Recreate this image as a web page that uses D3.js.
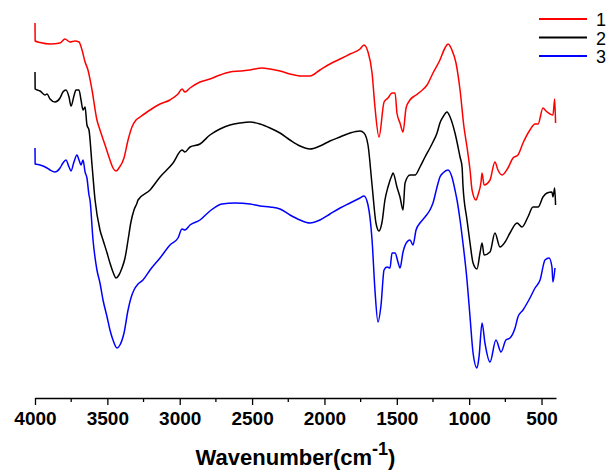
<!DOCTYPE html>
<html>
<head>
<meta charset="utf-8">
<script src="https://cdn.jsdelivr.net/npm/d3@7"></script>
<style>
  body { margin: 0; background: #fff; }
  svg { display: block; font-family: "Liberation Sans", Arial, sans-serif; }
</style>
</head>
<body>
<div id="chart"></div>
<script>
// FTIR spectra: [wavenumber (cm-1), transmittance (a.u., offset per curve)]
var spectrum1 = [
  [4000, 377], [3999, 359], [3965, 357.5], [3896, 356], [3827, 357], [3793, 361], [3758, 358],
  [3724, 359], [3696, 358], [3675, 350], [3654, 338], [3634, 330], [3606, 310], [3572, 280],
  [3551, 270], [3516, 255], [3482, 240], [3461, 232], [3440, 229], [3420, 232], [3385, 242],
  [3357, 260], [3330, 273], [3302, 280], [3274, 283], [3205, 290], [3136, 296], [3067, 300],
  [3012, 306], [2984, 311], [2964, 308], [2929, 312], [2860, 318], [2791, 321], [2722, 325],
  [2653, 328], [2583, 329], [2514, 330], [2431, 332], [2376, 331], [2307, 329], [2238, 326],
  [2169, 324], [2100, 324], [2031, 330], [1962, 336], [1892, 341], [1823, 346], [1754, 351],
  [1727, 355], [1699, 348], [1671, 327], [1651, 293], [1623, 263], [1588, 298], [1561, 302],
  [1533, 307], [1512, 307], [1499, 287], [1478, 277], [1457, 268], [1436, 292], [1409, 300],
  [1367, 305], [1340, 308], [1291, 315], [1250, 327], [1202, 340], [1167, 352], [1146, 356],
  [1119, 350], [1091, 337], [1063, 310], [1036, 273], [1015, 253], [994, 230], [980, 210],
  [953, 200], [939, 205], [918, 218], [911, 227], [897, 215], [856, 220], [822, 238], [801, 230],
  [773, 225], [732, 232], [697, 242], [663, 245], [628, 257], [580, 270], [545, 276], [524, 276],
  [490, 292], [469, 289], [441, 286], [421, 285], [409, 301], [403, 277]
];
var spectrum2 = [
  [4000, 328], [3999, 311], [3965, 309], [3931, 305], [3917, 306], [3896, 301], [3862, 298],
  [3827, 302], [3807, 308], [3786, 310], [3765, 303], [3751, 294], [3731, 304], [3717, 310],
  [3696, 310], [3682, 300], [3668, 290], [3654, 293], [3641, 275], [3627, 270], [3606, 235],
  [3585, 200], [3551, 170], [3530, 160], [3502, 147], [3482, 137], [3461, 128], [3440, 122],
  [3420, 125], [3399, 132], [3378, 142], [3357, 160], [3337, 178], [3316, 190], [3295, 197],
  [3288, 200], [3205, 210], [3136, 223], [3046, 237], [2984, 250], [2964, 248], [2929, 253],
  [2860, 256], [2791, 265], [2722, 271], [2653, 275], [2583, 277], [2514, 278], [2445, 276],
  [2376, 272], [2307, 267], [2238, 260], [2169, 254], [2100, 251], [2031, 254], [1962, 259],
  [1892, 263], [1823, 267], [1754, 269], [1727, 267], [1699, 255], [1671, 215], [1644, 177],
  [1623, 169], [1602, 178], [1582, 200], [1561, 213], [1533, 225], [1526, 227], [1499, 213],
  [1478, 203], [1457, 190], [1443, 217], [1409, 225], [1374, 225], [1340, 233], [1305, 243],
  [1271, 252], [1250, 258], [1222, 267], [1202, 277], [1181, 283], [1153, 288], [1132, 283],
  [1098, 267], [1063, 243], [1049, 233], [1043, 215], [1015, 180], [994, 157], [973, 137],
  [946, 131], [925, 147], [911, 157], [897, 145], [856, 148], [822, 167], [787, 153], [752, 158],
  [718, 167], [669, 177], [635, 173], [594, 183], [559, 193], [524, 193], [490, 203], [462, 207],
  [428, 208], [421, 203], [409, 212], [403, 195]
];
var spectrum3 = [
  [4000, 252], [3999, 236], [3965, 235], [3917, 232], [3896, 230], [3862, 228], [3827, 232],
  [3807, 237], [3786, 240], [3765, 233], [3751, 229], [3731, 238], [3710, 245], [3696, 240],
  [3682, 235], [3668, 240], [3654, 228], [3641, 222], [3627, 205], [3620, 200], [3599, 160],
  [3572, 130], [3551, 117], [3530, 100], [3502, 83], [3482, 70], [3461, 60], [3433, 52],
  [3413, 55], [3385, 67], [3357, 90], [3337, 102], [3316, 110], [3288, 116], [3254, 120],
  [3205, 130], [3136, 142], [3067, 155], [3012, 162], [2984, 171], [2964, 170], [2929, 175],
  [2860, 180], [2791, 189], [2708, 196], [2618, 197], [2514, 196], [2445, 194], [2376, 193],
  [2307, 191], [2238, 185], [2169, 180], [2100, 177], [2031, 180], [1962, 186], [1892, 192],
  [1823, 197], [1754, 202], [1727, 204], [1699, 195], [1671, 160], [1651, 110], [1630, 78],
  [1609, 95], [1588, 130], [1568, 133], [1547, 132], [1533, 147], [1512, 147], [1492, 138],
  [1478, 132], [1457, 148], [1430, 158], [1409, 160], [1388, 155], [1367, 170], [1340, 177],
  [1305, 183], [1271, 190], [1250, 197], [1222, 213], [1202, 223], [1181, 227], [1146, 230],
  [1119, 223], [1098, 210], [1084, 200], [1063, 180], [1043, 157], [1015, 120], [994, 83],
  [973, 47], [946, 32], [932, 43], [911, 77], [891, 57], [856, 38], [815, 60], [780, 48],
  [746, 60], [718, 62], [683, 72], [663, 83], [628, 90], [580, 102], [545, 112], [510, 120],
  [476, 140], [448, 142], [428, 133], [421, 118], [407, 132]
];

var seriesNames = ["1", "2", "3"];
var seriesColors = ["#ff0000", "#000000", "#0000ff"];
var majorTicks = [4000, 3500, 3000, 2500, 2000, 1500, 1000, 500];
var minorTicks = [3750, 3250, 2750, 2250, 1750, 1250, 750];
var xTitle = "Wavenumber(cm";

var width = 606, height = 470;
var margin = {top: 0, left: 35, right: 50, bottom: 72};

var svg = d3.select("#chart").append("svg")
    .attr("width", width)
    .attr("height", height);

var x = d3.scaleLinear().domain([4000, 400]).range([margin.left, width - margin.right]);
var y = d3.scaleLinear().domain([0, 400]).range([height - margin.bottom + 2, 0]);

var line = d3.line()
    .x(function(d) { return x(d[0]); })
    .y(function(d) { return y(d[1]); })
    .curve(d3.curveMonotoneX);

var data = [spectrum1, spectrum2, spectrum3];

svg.selectAll(".spectrum")
    .data(data)
    .enter()
    .append("path")
    .attr("class", "spectrum")
    .attr("d", line)
    .attr("fill", "none")
    .attr("stroke", function(d, i) { return seriesColors[i]; })
    .attr("stroke-width", 1.5)
    .attr("stroke-linejoin", "round");

//bottom axis, major ticks with labels plus unlabeled minor ticks
var axisY = height - margin.bottom;
var xAxis = svg.append("g")
    .attr("transform", "translate(0," + axisY + ")")
    .call(d3.axisBottom(x).tickValues(majorTicks).tickSize(7).tickSizeOuter(0).tickPadding(7).tickFormat(d3.format("d")));
xAxis.select(".domain").attr("stroke-width", 1.3);
xAxis.selectAll(".tick line").attr("stroke-width", 1.3);
xAxis.selectAll("text")
    .attr("font-family", "Liberation Sans, Arial, sans-serif")
    .attr("font-size", 19)
    .attr("font-weight", "bold")
    .attr("fill", "#000");

svg.append("g")
    .attr("transform", "translate(0," + axisY + ")")
    .selectAll("line")
    .data(minorTicks)
    .enter()
    .append("line")
    .attr("x1", function(d) { return x(d); })
    .attr("x2", function(d) { return x(d); })
    .attr("y1", 0)
    .attr("y2", 4)
    .attr("stroke", "#000")
    .attr("stroke-width", 1.3);

// axis title with superscript
var title = svg.append("text")
    .attr("x", (x(4000) + x(400)) / 2)
    .attr("y", 465)
    .attr("text-anchor", "middle")
    .attr("font-size", 22)
    .attr("font-weight", "bold");
title.append("tspan").text(xTitle);
title.append("tspan").attr("dy", -10).attr("font-size", 18).text("-1");
title.append("tspan").attr("dy", 10).text(")");

// legend
var legend = svg.append("g").attr("transform", "translate(539,19)");
var rows = legend.selectAll("g")
    .data(seriesNames)
    .enter()
    .append("g")
    .attr("transform", function(d, i) { return "translate(0," + (i * 18.5) + ")"; });
rows.append("line")
    .attr("x1", 0).attr("x2", 48)
    .attr("stroke", function(d, i) { return seriesColors[i]; })
    .attr("stroke-width", 2);
rows.append("text")
    .attr("x", 57)
    .attr("y", 7)
    .attr("font-size", 18)
    .text(function(d) { return d; });
</script>
</body>
</html>
